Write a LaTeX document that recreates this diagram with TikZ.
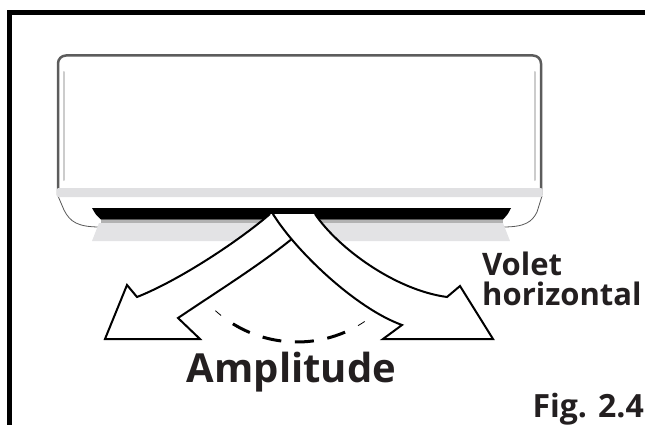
\documentclass[tikz,border=0pt]{standalone}
\usepackage{fontspec}
\newfontfamily\labelfont{Open Sans}
\definecolor{casing}{HTML}{5C5C5C}
\definecolor{trim}{HTML}{E0E0E2}
\definecolor{flap}{HTML}{E3E3E5}
\definecolor{ink}{HTML}{231F20}
\tikzset{
  flow/.style={fill=white, draw=black, line width=2pt, line join=miter},
  caption/.style 2 args={text=ink, inner sep=0pt,
    font=\labelfont\bfseries\fontsize{#1}{#2}\selectfont},
}
\begin{document}
\begin{tikzpicture}[x=1pt, y=-1pt]
    \useasboundingbox (0,0) rectangle (645,425);

    % Frame
    \draw[line width=5pt] (9.5,440) -- (9.5,12.5) -- (660,12.5);

    % Indoor unit: front panel
    \draw[casing, line width=2.5pt, fill=white, rounded corners=8pt]
        (58,195) -- (58,55.5) -- (541,55.5) -- (541,195);
    \draw[gray!40, line width=2pt, line cap=round] (64,72) -- (64,180);
    \draw[gray!40, line width=2pt, line cap=round] (535,72) -- (535,180);

    % Lower housing and trim strip
    \draw[fill=white, draw=gray!70!black, line width=0.8pt]
        (58,196) -- (64,210) .. controls (70,222) and (78,227) .. (100,227)
        -- (503,227) .. controls (525,227) and (532,222) .. (537,212) -- (542,196);
    \fill[trim, rounded corners=1.5pt] (56.5,188) rectangle (542.5,197);

    % Air outlet and flap
    \fill[black] (92,208) -- (511,208) .. controls (508,214) .. (503,219.5)
        -- (101,219.5) .. controls (96,215) .. cycle;
    \fill[gray!60] (101,219.5) rectangle (503,223);
    \fill[flap] (99,223) -- (503,223) -- (510,241) -- (92,241) -- cycle;

    % Left airflow
    \filldraw[flow] (270,214) .. controls (240,240) and (180,280) .. (137,297)
        -- (127,285) -- (105,339) -- (200,339) -- (178,318)
        .. controls (215,293) and (260,265) .. (293,238) -- (273,214);

    % Right airflow
    \filldraw[flow] (273,214) .. controls (295,250) and (355,308) .. (402,325)
        -- (383,339) -- (493,339) -- (460,286) -- (447,297)
        .. controls (395,290) and (338,248) .. (315,214);

    % Swing range
    \draw[line width=3pt, dash pattern=on 19pt off 13.7pt]
        (297,220) ++(121.7:122) arc[start angle=121.7, end angle=66.8, radius=122];
    \draw[line width=0.8pt] (297,220) ++(132:122) arc[start angle=132, end angle=128.5, radius=122];
    \draw[line width=0.8pt] (297,220) ++(60:122) arc[start angle=60, end angle=56.3, radius=122];

    % Labels
    \node[caption={40}{40}, anchor=base] (amplitude) at (291.5,382) {Amplitude};
    \node[caption={31}{30}, anchor=base west, align=left] (volet) at (482,305) {Volet\\horizontal};
    \node[caption={32}{32}, anchor=base east] (fig) at (644,417) {Fig. 2.4};
\end{tikzpicture}
\end{document}
